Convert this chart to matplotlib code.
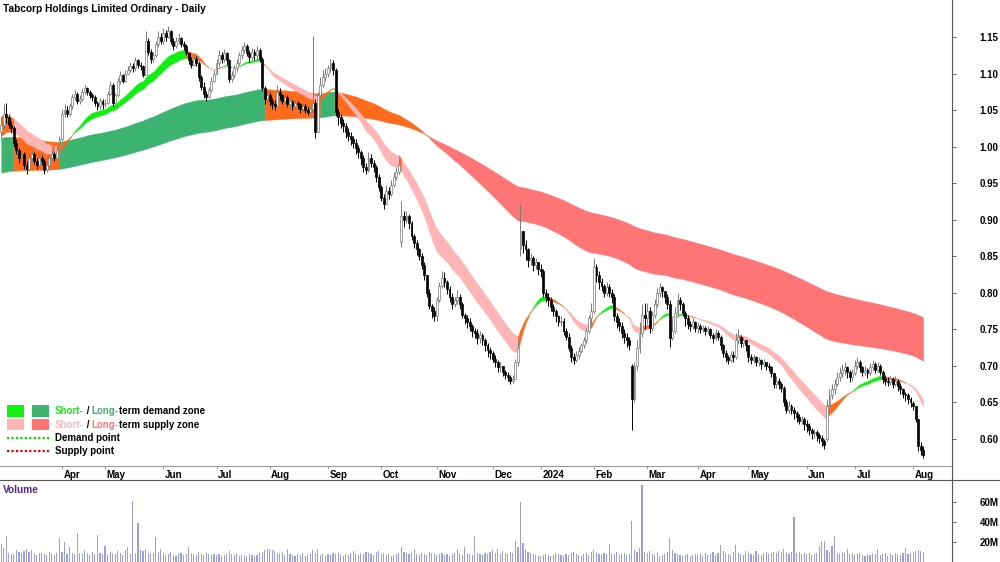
import numpy as np
import pandas as pd
import matplotlib
matplotlib.use("Agg")
import matplotlib.pyplot as plt
import matplotlib.transforms as mtrans
from matplotlib.patches import Rectangle

plt.rcParams['font.family'] = ['Liberation Sans', 'DejaVu Sans']

# ---------------- data ----------------
asx_holidays = ["2023-04-07", "2023-04-10", "2023-04-25", "2023-06-12", "2023-12-25",
                "2023-12-26", "2024-01-01", "2024-01-26", "2024-03-29", "2024-04-01",
                "2024-04-25", "2024-06-10"]

# closes per month (first list starts with 28 Feb 2023)
close_mar23 = [1.030, 1.045, 1.040, 1.030, 1.025, 1.005, 0.995, 0.985, 0.990, 0.975, 0.970, 0.985,
               0.990, 0.980, 0.975, 0.985, 0.980, 0.968, 0.975, 0.985, 0.990, 0.985, 0.995, 1.010]
close_apr23 = [1.045, 1.050, 1.045, 1.055, 1.068, 1.072, 1.062, 1.065, 1.075, 1.080, 1.075, 1.070,
               1.068, 1.060, 1.055, 1.062, 1.058]
close_may23 = [1.060, 1.072, 1.085, 1.060, 1.070, 1.090, 1.098, 1.090, 1.100, 1.105, 1.110, 1.108,
               1.118, 1.112, 1.110, 1.098, 1.145, 1.130, 1.120, 1.125, 1.140, 1.150, 1.145]
close_jun23 = [1.155, 1.150, 1.158, 1.145, 1.138, 1.145, 1.148, 1.140, 1.138, 1.128, 1.118, 1.112,
               1.120, 1.115, 1.095, 1.082, 1.072, 1.068, 1.078, 1.090, 1.100]
close_jul23 = [1.115, 1.125, 1.120, 1.128, 1.118, 1.092, 1.098, 1.108, 1.115, 1.125, 1.132, 1.138,
               1.128, 1.122, 1.130, 1.125, 1.132, 1.120, 1.080, 1.065, 1.070]
close_aug23 = [1.062, 1.058, 1.055, 1.075, 1.070, 1.062, 1.068, 1.058, 1.062, 1.055, 1.060, 1.058,
               1.052, 1.055, 1.050, 1.048, 1.052, 1.060, 1.020, 1.070, 1.085, 1.095, 1.100]
close_sep23 = [1.108, 1.115, 1.105, 1.048, 1.040, 1.032, 1.028, 1.020, 1.015, 1.010, 1.005, 0.998,
               0.992, 0.985, 0.972, 0.968, 0.985, 0.978, 0.972, 0.958, 0.945]
close_oct23 = [0.930, 0.922, 0.940, 0.935, 0.948, 0.958, 0.965, 0.975, 0.905, 0.900, 0.905, 0.895,
               0.878, 0.868, 0.860, 0.850, 0.838, 0.825, 0.800, 0.782, 0.775, 0.768]
close_nov23 = [0.790, 0.810, 0.820, 0.815, 0.805, 0.795, 0.785, 0.790, 0.795, 0.785, 0.770, 0.765,
               0.760, 0.755, 0.748, 0.745, 0.738, 0.742, 0.735, 0.728, 0.722, 0.718]
close_dec23 = [0.710, 0.705, 0.698, 0.700, 0.692, 0.688, 0.685, 0.680, 0.682, 0.705, 0.725, 0.885,
               0.865, 0.860, 0.845, 0.848, 0.838, 0.842, 0.832]
close_jan24 = [0.830, 0.800, 0.795, 0.790, 0.780, 0.775, 0.768, 0.760, 0.762, 0.748, 0.740, 0.725,
               0.712, 0.708, 0.715, 0.720, 0.728, 0.735, 0.748, 0.765, 0.775]
close_feb24 = [0.835, 0.825, 0.815, 0.810, 0.800, 0.808, 0.800, 0.795, 0.768, 0.760, 0.755, 0.745,
               0.740, 0.735, 0.728, 0.655, 0.700, 0.725, 0.745, 0.770, 0.765]
close_mar24 = [0.775, 0.752, 0.770, 0.785, 0.800, 0.808, 0.802, 0.795, 0.785, 0.738, 0.748, 0.772,
               0.790, 0.785, 0.772, 0.765, 0.758, 0.755, 0.760, 0.752]
close_apr24 = [0.755, 0.750, 0.752, 0.748, 0.750, 0.742, 0.738, 0.745, 0.740, 0.728, 0.718, 0.712,
               0.708, 0.715, 0.712, 0.735, 0.740, 0.732, 0.735, 0.728]
close_may24 = [0.712, 0.708, 0.712, 0.705, 0.708, 0.702, 0.705, 0.700, 0.698, 0.690, 0.675, 0.680,
               0.675, 0.670, 0.650, 0.640, 0.645, 0.640, 0.635, 0.630, 0.625, 0.628, 0.620]
close_jun24 = [0.618, 0.612, 0.608, 0.610, 0.605, 0.602, 0.598, 0.592, 0.645, 0.660, 0.668, 0.675,
               0.685, 0.690, 0.695, 0.698, 0.692, 0.685, 0.690]
close_jul24 = [0.700, 0.705, 0.698, 0.692, 0.695, 0.690, 0.698, 0.702, 0.695, 0.700, 0.692, 0.682,
               0.680, 0.678, 0.682, 0.675, 0.680, 0.672, 0.668, 0.662, 0.660, 0.655, 0.650]
close_aug24 = [0.645, 0.628, 0.590, 0.585, 0.578]

high_mar23 = [1.040, 1.058, 1.060, 1.045, 1.035, 1.028, 1.010, 0.998, 0.995, 0.992, 0.980, 0.990,
              0.995, 0.992, 0.985, 0.990, 0.988, 0.983, 0.980, 0.990, 0.995, 0.993, 1.000, 1.015]
high_apr23 = [1.052, 1.058, 1.055, 1.060, 1.072, 1.078, 1.075, 1.070, 1.080, 1.085, 1.082, 1.078,
              1.074, 1.070, 1.063, 1.066, 1.065]
high_may23 = [1.065, 1.076, 1.090, 1.087, 1.074, 1.094, 1.104, 1.100, 1.105, 1.110, 1.116, 1.115,
              1.123, 1.120, 1.116, 1.112, 1.158, 1.148, 1.133, 1.130, 1.145, 1.158, 1.155]
high_jun23 = [1.162, 1.160, 1.165, 1.160, 1.148, 1.150, 1.155, 1.150, 1.145, 1.140, 1.130, 1.122,
              1.125, 1.124, 1.117, 1.098, 1.088, 1.076, 1.082, 1.095, 1.105]
high_jul23 = [1.120, 1.132, 1.130, 1.133, 1.130, 1.120, 1.104, 1.112, 1.120, 1.130, 1.138, 1.143,
              1.140, 1.132, 1.135, 1.133, 1.138, 1.135, 1.122, 1.083, 1.078]
high_aug23 = [1.075, 1.066, 1.064, 1.084, 1.080, 1.072, 1.073, 1.070, 1.066, 1.064, 1.064, 1.063,
              1.060, 1.060, 1.058, 1.054, 1.056, 1.152, 1.065, 1.075, 1.095, 1.105, 1.108]
high_sep23 = [1.112, 1.120, 1.118, 1.108, 1.052, 1.045, 1.038, 1.032, 1.025, 1.020, 1.015, 1.010,
              1.002, 0.995, 0.988, 0.978, 0.992, 0.990, 0.982, 0.975, 0.962]
high_oct23 = [0.948, 0.935, 0.948, 0.945, 0.955, 0.965, 0.972, 0.985, 0.925, 0.912, 0.912, 0.908,
              0.898, 0.880, 0.872, 0.862, 0.855, 0.842, 0.822, 0.805, 0.785, 0.780]
high_nov23 = [0.795, 0.815, 0.830, 0.828, 0.818, 0.810, 0.800, 0.795, 0.804, 0.798, 0.788, 0.772,
              0.770, 0.765, 0.758, 0.752, 0.750, 0.748, 0.745, 0.738, 0.732, 0.726]
high_dec23 = [0.720, 0.715, 0.708, 0.706, 0.700, 0.695, 0.692, 0.688, 0.688, 0.710, 0.735, 0.922,
              0.885, 0.872, 0.862, 0.855, 0.850, 0.848, 0.842]
high_jan24 = [0.840, 0.832, 0.805, 0.800, 0.795, 0.785, 0.778, 0.770, 0.768, 0.765, 0.752, 0.745,
              0.728, 0.718, 0.720, 0.726, 0.732, 0.740, 0.752, 0.770, 0.786]
high_feb24 = [0.848, 0.840, 0.830, 0.820, 0.812, 0.815, 0.812, 0.805, 0.798, 0.772, 0.765, 0.760,
              0.750, 0.745, 0.740, 0.702, 0.705, 0.735, 0.760, 0.785, 0.786]
high_mar24 = [0.786, 0.780, 0.775, 0.792, 0.806, 0.813, 0.810, 0.803, 0.798, 0.790, 0.765, 0.780,
              0.800, 0.795, 0.788, 0.775, 0.770, 0.762, 0.765, 0.762]
high_apr24 = [0.760, 0.758, 0.756, 0.755, 0.754, 0.752, 0.745, 0.750, 0.748, 0.742, 0.730, 0.722,
              0.715, 0.720, 0.720, 0.745, 0.750, 0.742, 0.740, 0.736]
high_may24 = [0.728, 0.716, 0.716, 0.714, 0.712, 0.710, 0.710, 0.706, 0.704, 0.700, 0.690, 0.686,
              0.684, 0.678, 0.672, 0.655, 0.652, 0.648, 0.644, 0.638, 0.634, 0.632, 0.630]
high_jun24 = [0.626, 0.622, 0.615, 0.614, 0.612, 0.608, 0.605, 0.600, 0.655, 0.668, 0.675, 0.682,
              0.692, 0.698, 0.702, 0.705, 0.700, 0.695, 0.696]
high_jul24 = [0.708, 0.712, 0.708, 0.700, 0.700, 0.697, 0.704, 0.708, 0.705, 0.706, 0.702, 0.695,
              0.688, 0.685, 0.686, 0.685, 0.686, 0.682, 0.676, 0.670, 0.665, 0.663, 0.658]
high_aug24 = [0.652, 0.645, 0.625, 0.596, 0.590]

low_mar23 = [1.012, 1.025, 1.032, 1.025, 1.018, 1.000, 0.990, 0.978, 0.980, 0.970, 0.962, 0.968,
             0.980, 0.976, 0.970, 0.972, 0.975, 0.962, 0.965, 0.972, 0.982, 0.980, 0.982, 0.992]
low_apr23 = [1.008, 1.040, 1.040, 1.042, 1.052, 1.064, 1.058, 1.058, 1.063, 1.072, 1.070, 1.066,
             1.062, 1.056, 1.050, 1.052, 1.052]
low_may23 = [1.054, 1.058, 1.070, 1.055, 1.058, 1.068, 1.086, 1.087, 1.088, 1.098, 1.102, 1.102,
             1.104, 1.108, 1.105, 1.095, 1.098, 1.126, 1.115, 1.116, 1.122, 1.136, 1.140]
low_jun23 = [1.140, 1.145, 1.148, 1.140, 1.132, 1.135, 1.140, 1.136, 1.132, 1.125, 1.113, 1.108,
             1.110, 1.110, 1.090, 1.078, 1.066, 1.063, 1.066, 1.075, 1.088]
low_jul23 = [1.098, 1.110, 1.114, 1.116, 1.112, 1.088, 1.088, 1.094, 1.103, 1.112, 1.120, 1.128,
             1.124, 1.116, 1.118, 1.118, 1.120, 1.116, 1.076, 1.058, 1.060]
low_aug23 = [1.056, 1.052, 1.050, 1.053, 1.064, 1.058, 1.058, 1.054, 1.054, 1.050, 1.052, 1.052,
             1.046, 1.048, 1.046, 1.043, 1.045, 1.047, 1.012, 1.020, 1.068, 1.082, 1.090]
low_sep23 = [1.095, 1.102, 1.098, 1.042, 1.030, 1.025, 1.020, 1.012, 1.008, 1.002, 0.998, 0.990,
             0.985, 0.975, 0.965, 0.962, 0.965, 0.972, 0.966, 0.952, 0.940]
low_oct23 = [0.925, 0.915, 0.925, 0.928, 0.932, 0.945, 0.955, 0.962, 0.863, 0.890, 0.895, 0.888,
             0.872, 0.862, 0.852, 0.845, 0.832, 0.818, 0.795, 0.778, 0.765, 0.762]
low_nov23 = [0.762, 0.788, 0.806, 0.808, 0.798, 0.788, 0.778, 0.780, 0.785, 0.778, 0.765, 0.758,
             0.752, 0.748, 0.740, 0.738, 0.730, 0.732, 0.728, 0.720, 0.712, 0.710]
low_dec23 = [0.705, 0.698, 0.692, 0.692, 0.686, 0.682, 0.680, 0.675, 0.676, 0.682, 0.700, 0.850,
             0.855, 0.845, 0.835, 0.838, 0.830, 0.832, 0.825]
low_jan24 = [0.822, 0.794, 0.788, 0.782, 0.775, 0.768, 0.760, 0.755, 0.754, 0.742, 0.735, 0.720,
             0.705, 0.702, 0.706, 0.710, 0.718, 0.725, 0.732, 0.745, 0.758]
low_feb24 = [0.772, 0.815, 0.805, 0.802, 0.794, 0.796, 0.794, 0.786, 0.762, 0.752, 0.748, 0.738,
             0.732, 0.726, 0.722, 0.612, 0.650, 0.695, 0.718, 0.740, 0.750]
low_mar24 = [0.758, 0.745, 0.748, 0.765, 0.780, 0.795, 0.795, 0.786, 0.778, 0.726, 0.735, 0.745,
             0.770, 0.776, 0.768, 0.755, 0.750, 0.748, 0.750, 0.746]
low_apr24 = [0.745, 0.745, 0.746, 0.743, 0.744, 0.738, 0.732, 0.735, 0.735, 0.722, 0.712, 0.706,
             0.702, 0.705, 0.706, 0.710, 0.730, 0.726, 0.726, 0.720]
low_may24 = [0.706, 0.702, 0.704, 0.700, 0.700, 0.696, 0.698, 0.695, 0.693, 0.685, 0.670, 0.670,
             0.668, 0.664, 0.645, 0.635, 0.636, 0.634, 0.628, 0.624, 0.620, 0.620, 0.612]
low_jun24 = [0.610, 0.605, 0.600, 0.602, 0.598, 0.595, 0.590, 0.586, 0.598, 0.645, 0.655, 0.662,
             0.672, 0.680, 0.685, 0.688, 0.684, 0.678, 0.680]
low_jul24 = [0.688, 0.696, 0.692, 0.686, 0.688, 0.684, 0.688, 0.694, 0.690, 0.692, 0.688, 0.676,
             0.674, 0.672, 0.674, 0.670, 0.672, 0.666, 0.662, 0.656, 0.652, 0.648, 0.644]
low_aug24 = [0.640, 0.624, 0.584, 0.578, 0.574]

# opens: previous close, except these gap bars
open_overrides = {0: 1.020, 158: 0.870, 205: 0.860, 249: 0.700, 326: 0.600}

# volume in millions
vol_mar23 = [18, 14, 26, 9, 8, 8, 12, 10, 9, 11, 13, 10, 12, 8, 7, 9, 9, 8, 7, 10, 8, 7, 9, 24]
vol_apr23 = [10, 20, 8, 15, 9, 8, 29, 9, 8, 12, 9, 7, 10, 8, 27, 9, 8]
vol_may23 = [16, 7, 10, 9, 8, 11, 9, 7, 12, 15, 8, 61, 9, 39, 12, 11, 13, 9, 8, 9, 25, 10, 13]
vol_jun23 = [9, 7, 8, 10, 7, 6, 8, 9, 7, 8, 15, 9, 8, 7, 10, 8, 7, 9, 8, 7, 8]
vol_jul23 = [7, 8, 6, 7, 8, 11, 8, 7, 9, 6, 7, 7, 6, 8, 7, 6, 7, 9, 10, 12, 13]
vol_aug23 = [13, 12, 11, 9, 8, 10, 7, 13, 8, 7, 6, 8, 7, 9, 6, 7, 8, 12, 9, 13, 7, 8, 6]
vol_sep23 = [8, 7, 9, 8, 9, 7, 6, 8, 7, 9, 11, 8, 7, 9, 8, 10, 9, 8, 7, 10, 11]
vol_oct23 = [8, 9, 7, 8, 6, 7, 8, 9, 15, 10, 9, 8, 9, 13, 8, 7, 9, 8, 7, 10, 9, 8]
vol_nov23 = [7, 8, 9, 7, 8, 6, 8, 9, 13, 8, 7, 15, 9, 8, 7, 26, 9, 8, 7, 9, 8, 10]
vol_dec23 = [12, 9, 13, 8, 11, 9, 8, 10, 9, 21, 15, 60, 19, 13, 10, 9, 8, 7, 6]
vol_jan24 = [6, 7, 8, 7, 6, 7, 9, 8, 7, 6, 8, 7, 9, 10, 8, 7, 6, 8, 9, 7, 10]
vol_feb24 = [12, 9, 8, 7, 9, 8, 18, 9, 8, 10, 7, 8, 9, 7, 8, 41, 12, 10, 14, 77, 10]
vol_mar24 = [9, 11, 8, 7, 9, 6, 7, 8, 10, 24, 12, 9, 8, 7, 6, 7, 8, 6, 7, 8]
vol_apr24 = [7, 8, 6, 9, 7, 8, 10, 7, 9, 17, 11, 9, 8, 7, 10, 17, 9, 8, 7, 11]
vol_may24 = [9, 8, 7, 11, 8, 7, 9, 10, 8, 9, 10, 9, 11, 10, 13, 9, 8, 10, 45, 9, 10, 8, 9]
vol_jun24 = [8, 9, 7, 8, 9, 16, 21, 21, 12, 10, 16, 26, 9, 8, 10, 9, 13, 8, 9]
vol_jul24 = [7, 8, 9, 7, 6, 8, 7, 9, 8, 13, 7, 8, 9, 6, 8, 7, 9, 8, 7, 9, 14, 8, 9]
vol_aug24 = [10, 11, 12, 11, 10]

# zone levels at the left edge of the chart
short_fast_start, short_slow_start = 1.013, 1.043
long_fast_start, long_slow_start = 1.012, 0.964

price_ticks = [0.60, 0.65, 0.70, 0.75, 0.80, 0.85, 0.90, 0.95, 1.00, 1.05, 1.10, 1.15]
vol_ticks = [20, 40, 60]
vol_tick_labels = ["20M", "40M", "60M"]

# ---------------- assemble ----------------
months = ["mar23", "apr23", "may23", "jun23", "jul23", "aug23", "sep23", "oct23", "nov23",
          "dec23", "jan24", "feb24", "mar24", "apr24", "may24", "jun24", "jul24", "aug24"]
g = globals()
close = np.array(sum([g["close_" + m] for m in months], []), float)
high = np.array(sum([g["high_" + m] for m in months], []), float)
low = np.array(sum([g["low_" + m] for m in months], []), float)
vol = np.array(sum([g["vol_" + m] for m in months], []), float)
n = len(close)
opn = np.r_[close[0], close[:-1]]
for k, v in open_overrides.items():
    opn[k] = v
high = np.maximum(high, np.maximum(opn, close))
low = np.minimum(low, np.minimum(opn, close))

dates = pd.bdate_range("2023-02-28", periods=n, freq="C", holidays=asx_holidays)
x = np.arange(n)


def ema(vals, period, start):
    a = 2.0 / (period + 1)
    out = np.empty(len(vals))
    e = start
    for i, v in enumerate(vals):
        e = e + a * (v - e)
        out[i] = e
    return out


s_fast = ema(close, 20, short_fast_start)
s_slow = ema(close, 30, short_slow_start)
l_fast = ema(close, 130, long_fast_start)
l_slow = ema(close, 240, long_slow_start)

ORANGE = "#ff6a1c"
C_SDEM, C_LDEM = "#12ee12", "#3cb371"
C_SSUP, C_LSUP = "#ffb5b5", "#ff7474"

# ---------------- figure ----------------
W, H = 1000, 562
fig = plt.figure(figsize=(W / 100, H / 100), dpi=100)
AX_R = 952
ax = fig.add_axes([0, 1 - 466 / H, AX_R / W, 466 / H])
axv = fig.add_axes([0, 0, AX_R / W, 82 / H])
ov = fig.add_axes([0, 0, 1, 1], zorder=10)
ov.set_xlim(0, W)
ov.set_ylim(H, 0)
ov.axis("off")
ov.patch.set_alpha(0)

px = 2.533
xlim = (-1.2 / px, (AX_R - 1.2) / px)


def draw_band(a, fast, slow, up_col, dn_col, z):
    up = fast > slow
    ok = np.where(up, close >= fast, close <= fast)
    kind = np.where(ok, np.where(up, 1, 2), 3)
    cmap = {1: up_col, 2: dn_col, 3: ORANGE}
    start = 0
    for i in range(1, n + 1):
        if i == n or kind[i] != kind[start]:
            end = min(i, n - 1)
            sl = slice(start, end + 1)
            a.fill_between(x[sl], fast[sl], slow[sl], color=cmap[kind[start]],
                           linewidth=0.3, edgecolor=cmap[kind[start]], zorder=z)
            start = i


draw_band(ax, l_fast, l_slow, C_LDEM, C_LSUP, 1)
draw_band(ax, s_fast, s_slow, C_SDEM, C_SSUP, 2)

upc = close >= opn
ax.vlines(x[upc], low[upc], high[upc], color="#7a7a7a", lw=0.7, zorder=3)
ax.vlines(x[~upc], low[~upc], high[~upc], color="black", lw=0.7, zorder=3)
bw = 0.75
ax.bar(x[upc], np.maximum(close - opn, 0.0008)[upc], bottom=opn[upc], width=bw,
       color="white", edgecolor="#7a7a7a", lw=0.5, zorder=4)
ax.bar(x[~upc], np.maximum(opn - close, 0.0008)[~upc], bottom=close[~upc], width=bw,
       color="black", edgecolor="black", lw=0.5, zorder=4)

ax.set_xlim(*xlim)
ax.set_ylim(1.15 - (466 - 37) / 731, 1.15 + 37 / 731)
ax.yaxis.tick_right()
ax.set_yticks(price_ticks)
ax.set_yticklabels(["%.2f" % t for t in price_ticks])
ax.tick_params(axis="y", direction="out", length=3, width=0.6, color="#555555",
               labelsize=7, pad=17)
for lab in ax.get_yticklabels():
    lab.set_fontweight("bold")

# month ticks/labels
mstart = [i for i in range(1, n) if dates[i].month != dates[i - 1].month and i > 5]
mlabels = [("%d" % dates[i].year) if dates[i].month == 1 else dates[i].strftime("%b") for i in mstart]
ax.set_xticks(mstart)
ax.set_xticklabels([])
ax.tick_params(axis="x", direction="out", length=2.5, width=0.6, color="#888888")
tr = mtrans.blended_transform_factory(ax.transData, ax.transAxes)
for i, lab in zip(mstart, mlabels):
    ax.text(i + 0.6, -8.5 / 466, lab, transform=tr, ha="left", va="center",
            fontsize=7, fontweight="bold", clip_on=False)
for sp in ["top", "left", "right"]:
    ax.spines[sp].set_visible(False)
ax.spines["bottom"].set_color("#999999")
ax.spines["bottom"].set_linewidth(0.8)
ax.patch.set_alpha(0)

# volume
axv.bar(x, vol, width=0.45, color="#9c9ce0", linewidth=0)
axv.set_xlim(*xlim)
axv.set_ylim(0, 82)
axv.yaxis.tick_right()
axv.set_yticks(vol_ticks)
axv.set_yticklabels(vol_tick_labels)
axv.tick_params(axis="y", direction="out", length=3, width=0.6, color="#555555",
                labelsize=7, pad=17)
for lab in axv.get_yticklabels():
    lab.set_fontweight("bold")
axv.set_xticks([])
for sp in axv.spines.values():
    sp.set_visible(False)
axv.patch.set_alpha(0)

# frame lines
ov.plot([0, W], [480, 480], color="#555555", lw=0.8)
ov.plot([AX_R, AX_R], [0, H], color="#555555", lw=0.8)

# texts
ov.text(3, 9.5, "Tabcorp Holdings Limited Ordinary - Daily", fontsize=7.3,
        fontweight="bold", ha="left", va="center")
ov.text(3, 490, "Volume", fontsize=7.3, fontweight="bold", color="#4f2a8a",
        ha="left", va="center")

# legend
ov.add_patch(Rectangle((7, 405), 17, 12, color=C_SDEM, lw=0))
ov.add_patch(Rectangle((32, 405), 17, 12, color=C_LDEM, lw=0))
ov.add_patch(Rectangle((7, 419), 17, 11, color=C_SSUP, lw=0))
ov.add_patch(Rectangle((32, 419), 17, 11, color=C_LSUP, lw=0))
ov.plot([7, 49], [438, 438], color="#00dd00", lw=1.6, linestyle=(0, (1, 1)))
ov.plot([7, 49], [451, 451], color="#ee0000", lw=1.6, linestyle=(0, (1, 1)))

renderer = fig.canvas.get_renderer()


def twidth(s, fs):
    t = ov.text(0, 0, s + "|", fontsize=fs, fontweight="bold")
    w1 = t.get_window_extent(renderer).width
    t.remove()
    t = ov.text(0, 0, "|", fontsize=fs, fontweight="bold")
    w2 = t.get_window_extent(renderer).width
    t.remove()
    return (w1 - w2) * 100.0 / fig.dpi


def runs(x0, y, pieces, fs=7):
    prefix = ""
    for s, c in pieces:
        ov.text(x0 + twidth(prefix, fs) if prefix else x0, y, s, color=c, fontsize=fs,
                fontweight="bold", ha="left", va="center")
        prefix += s


runs(55, 411, [("Short-", C_SDEM), (" / ", "black"), ("Long-", C_LDEM),
               ("term demand zone", "black")])
runs(55, 424.5, [("Short-", C_SSUP), (" / ", "black"), ("Long-", C_LSUP),
                 ("term supply zone", "black")])
runs(55, 438, [("Demand point", "black")])
runs(55, 451, [("Supply point", "black")])

fig.savefig("out.png", dpi=100)
